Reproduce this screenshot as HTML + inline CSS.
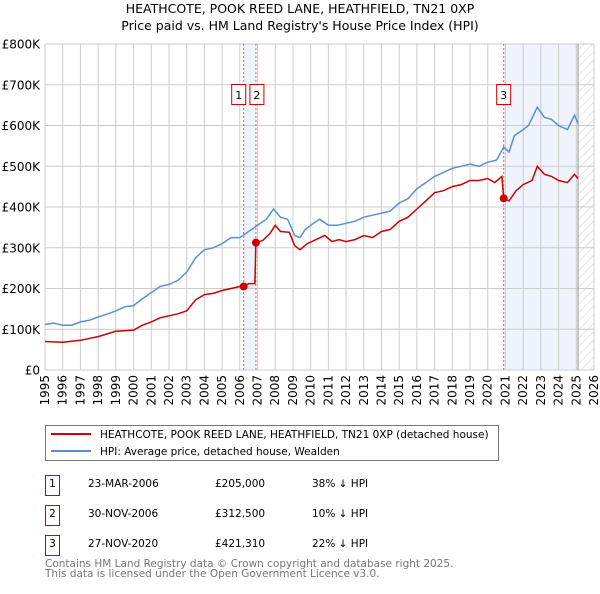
<!DOCTYPE html>
<html><head><meta charset="utf-8"><style>
body{margin:0;background:#fff;font-family:"DejaVu Sans","Liberation Sans",sans-serif;}
svg text{font-family:"DejaVu Sans","Liberation Sans",sans-serif;}
</style></head><body>
<svg id="chart" width="600" height="590" xmlns="http://www.w3.org/2000/svg">
<defs><pattern id="hatch" patternUnits="userSpaceOnUse" width="6" height="6" patternTransform="rotate(45)"><line x1="0" y1="0" x2="0" y2="6" stroke="#ccc" stroke-width="1"/></pattern></defs>
<text x="300" y="13" text-anchor="middle" font-size="12.5">HEATHCOTE, POOK REED LANE, HEATHFIELD, TN21 0XP</text>
<text x="300" y="30" text-anchor="middle" font-size="12.5">Price paid vs. HM Land Registry's House Price Index (HPI)</text>
<g id="grid"></g><g id="series"></g><g id="axes"></g>
<g>
<rect x="45.5" y="425.5" width="453" height="35" fill="#fff" stroke="#777"/>
<line x1="51" y1="434" x2="91" y2="434" stroke="#cc0000" stroke-width="2"/>
<text x="100" y="438" font-size="10.5">HEATHCOTE, POOK REED LANE, HEATHFIELD, TN21 0XP (detached house)</text>
<line x1="51" y1="451" x2="91" y2="451" stroke="#5b8fd4" stroke-width="2"/>
<text x="100" y="455" font-size="10.5">HPI: Average price, detached house, Wealden</text>
</g>
<g font-size="10.5">
<rect x="45.5" y="475.5" width="14" height="20" fill="none" stroke="#cc0000"/><text x="52.5" y="487" text-anchor="middle">1</text>
<text x="88" y="487">23-MAR-2006</text><text x="215" y="487">£205,000</text><text x="312" y="487">38% ↓ HPI</text>
<rect x="45.5" y="505.5" width="14" height="20" fill="none" stroke="#cc0000"/><text x="52.5" y="517" text-anchor="middle">2</text>
<text x="88" y="517">30-NOV-2006</text><text x="215" y="517">£312,500</text><text x="312" y="517">10% ↓ HPI</text>
<rect x="45.5" y="535.5" width="14" height="20" fill="none" stroke="#cc0000"/><text x="52.5" y="547" text-anchor="middle">3</text>
<text x="88" y="547">27-NOV-2020</text><text x="215" y="547">£421,310</text><text x="312" y="547">22% ↓ HPI</text>
</g>
<text x="45" y="567" font-size="10.5" fill="#777">Contains HM Land Registry data © Crown copyright and database right 2025.</text>
<text x="45" y="577" font-size="10.5" fill="#777">This data is licensed under the Open Government Licence v3.0.</text>
</svg>
<script>
const hpiYears=[1995,1995.5,1996,1996.5,1997,1997.5,1998,1998.5,1999,1999.5,2000,2000.5,2001,2001.5,2002,2002.5,2003,2003.5,2004,2004.5,2005,2005.5,2006,2006.5,2007,2007.5,2007.9,2008.3,2008.7,2009.1,2009.4,2009.7,2010,2010.5,2011,2011.5,2012,2012.5,2013,2013.5,2014,2014.5,2015,2015.5,2016,2016.5,2017,2017.5,2018,2018.5,2019,2019.5,2020,2020.5,2020.9,2021.2,2021.5,2022,2022.3,2022.8,2023.2,2023.6,2024,2024.5,2024.9,2025.1];
const hpiValues=[112,115,110,110,118,122,130,137,145,155,158,175,190,205,210,220,240,275,295,300,310,325,325,340,355,370,395,375,370,330,325,345,355,370,355,355,360,365,375,380,385,390,410,420,445,460,475,485,495,500,505,500,510,515,547,535,575,590,600,645,620,615,600,590,625,605];
const paidYears=[1995,1996,1997,1998,1999,2000,2000.5,2001,2001.5,2002,2002.5,2003,2003.5,2004,2004.5,2005,2005.5,2006,2006.22,2006.5,2006.85,2006.91,2007.3,2007.7,2008,2008.3,2008.8,2009.1,2009.4,2009.8,2010.3,2010.8,2011.2,2011.6,2012,2012.5,2013,2013.5,2014,2014.5,2015,2015.5,2016,2016.5,2017,2017.5,2018,2018.5,2019,2019.5,2020,2020.4,2020.8,2020.9,2021.2,2021.6,2022,2022.5,2022.8,2023.2,2023.6,2024,2024.5,2024.9,2025.1];
const paidValues=[70,68,73,82,95,98,110,118,128,133,138,145,172,185,188,195,200,205,205,212,212,312,318,335,355,340,338,305,295,310,320,330,315,320,315,320,330,325,340,345,365,375,395,415,435,440,450,455,465,465,470,460,475,421,415,440,455,465,500,480,475,465,460,480,470];
const saleYears=[2006.22,2006.91,2020.9];
const saleValues=[205,312.5,421.31];
const saleLabels=["1","2","3"];
const yTicks=[0,100,200,300,400,500,600,700,800];
const yTickLabels=["£0","£100K","£200K","£300K","£400K","£500K","£600K","£700K","£800K"];
const xTicks=[1995,1996,1997,1998,1999,2000,2001,2002,2003,2004,2005,2006,2007,2008,2009,2010,2011,2012,2013,2014,2015,2016,2017,2018,2019,2020,2021,2022,2023,2024,2025,2026];

const NS="http://www.w3.org/2000/svg";
const L=45,R=594,T=44,B=370;
const x=v=>L+(v-1995)/(2026-1995)*(R-L);
const y=v=>B-v/800*(B-T);
function mk(tag,attrs,parent){const e=document.createElementNS(NS,tag);for(const k in attrs)e.setAttribute(k,attrs[k]);parent.appendChild(e);return e;}
const grid=document.getElementById('grid'),ser=document.getElementById('series'),ax=document.getElementById('axes');
let s=mk('rect',{x:x(saleYears[0]),y:T,width:x(saleYears[1])-x(saleYears[0]),height:B-T,fill:'#eef3fc'},grid);


s=mk('rect',{x:x(saleYears[2]),y:T,width:x(2025.1)-x(saleYears[2]),height:B-T,fill:'#eef3fc'},grid);


s=mk('rect',{x:x(2025.1),y:T,width:R-x(2025.1),height:B-T,fill:'url(#hatch)'},grid);


xTicks.forEach(t=>{mk('line',{x1:x(t),x2:x(t),y1:T,y2:B,stroke:'#ccc','stroke-width':1},grid);});
yTicks.forEach(t=>{mk('line',{x1:L,x2:R,y1:y(t),y2:y(t),stroke:'#ccc','stroke-width':1},grid);});
mk('line',{x1:x(2025.1),x2:x(2025.1),y1:T,y2:B,stroke:'#999','stroke-width':1},grid);
saleYears.forEach(v=>{mk('line',{x1:x(v),x2:x(v),y1:T,y2:B,stroke:'#e06060','stroke-width':1,'stroke-dasharray':'2,2'},grid);});
function pts(xs,vs){return xs.map((a,i)=>x(a).toFixed(1)+','+y(vs[i]).toFixed(1)).join(' ');}
let p=mk('polyline',{points:pts(hpiYears,hpiValues),fill:'none',stroke:'#5b8fd4','stroke-width':1.5},ser);


p=mk('polyline',{points:pts(paidYears,paidValues),fill:'none',stroke:'#cc0000','stroke-width':1.5},ser);


saleYears.forEach((v,i)=>{
 const c=mk('circle',{cx:x(v),cy:y(saleValues[i]),r:4,fill:'#cc0000'},ser);
 
 
});
const boxes=[[x(saleYears[0])-12,'1'],[x(saleYears[1])-7+1,'2'],[x(saleYears[2])-7,'3']];
boxes.forEach(b=>{
 const g=mk('g',{},ser);
 
 
 mk('rect',{x:b[0],y:84.5,width:14,height:20,fill:'#fff',stroke:'#cc0000'},g);
 const t=mk('text',{x:b[0]+7,y:99,'text-anchor':'middle','font-size':11},g);t.textContent=b[1];
});
yTicks.forEach((t,i)=>{const e=mk('text',{x:40,y:y(t)+4.5,'text-anchor':'end','font-size':12},ax);e.textContent=yTickLabels[i];
 
 });
xTicks.forEach(t=>{const e=mk('text',{x:x(t)+4,y:375,'text-anchor':'end','font-size':12,transform:`rotate(-90 ${x(t)+4} 375)`},ax);e.textContent=t;
 
 });
</script>
</body></html>
